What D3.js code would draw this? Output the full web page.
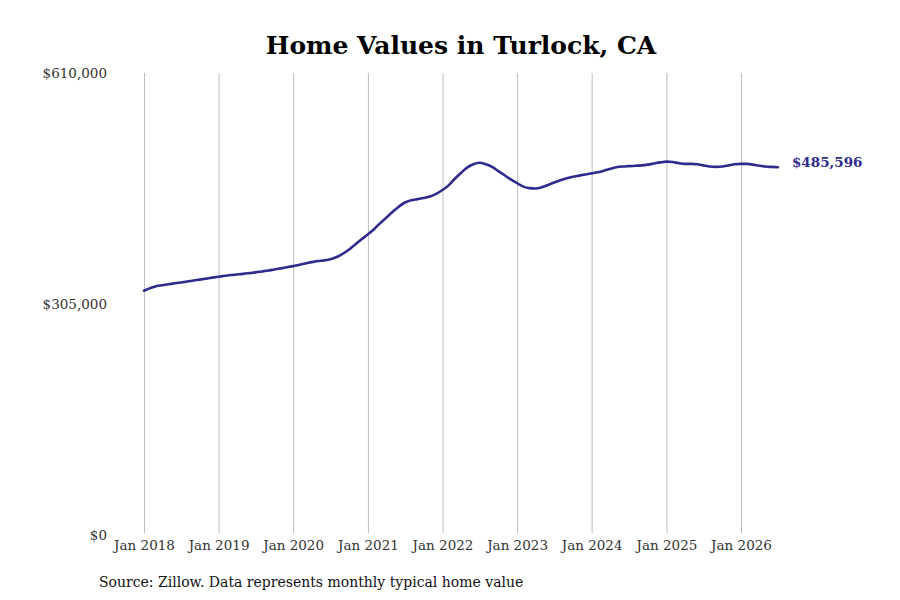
<!DOCTYPE html>
<html>
<head>
<meta charset="utf-8">
<script src="https://cdn.jsdelivr.net/npm/d3@7"></script>
<style>
  body { margin: 0; background: #fff; }
  text { font-family: "DejaVu Serif", serif; }
</style>
</head>
<body>
<div id="drawing"></div>
<script>
// monthly typical home value, Jan 2018 .. Jul 2026
const startMonth = "2018-01";
const values = [
  // 2018
  322500, 326000, 328500, 329800, 331000, 332300, 333500, 334700, 336000, 337200, 338500, 339800,
  // 2019
  341000, 342200, 343200, 344000, 344800, 345800, 346800, 348000, 349200, 350600, 352000, 353500,
  // 2020
  355000, 356800, 358500, 360300, 361700, 362600, 364000, 367000, 371500, 377000, 384000, 390500,
  // 2021
  397000, 404000, 411500, 419000, 426500, 433500, 439000, 442000, 443500, 445000, 447000, 450500,
  // 2022
  455500, 462000, 470000, 478000, 485000, 489500, 491500, 489500, 486000, 480500, 475000, 469500,
  // 2023
  464500, 460000, 458000, 457500, 459000, 462000, 465500, 468500, 471000, 473000, 474500, 476000,
  // 2024
  477500, 479000, 481000, 483500, 485500, 486500, 487000, 487500, 488000, 489000, 490500, 492000,
  // 2025
  493000, 492500, 491000, 490000, 490000, 489500, 488000, 486500, 486000, 486500, 488000, 489500,
  // 2026
  490000, 490000, 489000, 487500, 486500, 486000, 485596
];
const yTicks = [0, 305000, 610000];
const xTickYears = [2018, 2019, 2020, 2021, 2022, 2023, 2024, 2025, 2026];
const title = "Home Values in Turlock, CA";
const source = "Source: Zillow. Data represents monthly typical home value";

const width = 900;
const height = 600;
const lineColor = "#2e2b8c";

const parseMonth = d3.timeParse("%Y-%m");
const t0 = parseMonth(startMonth);
const data = values.map((v, i) => ({date: d3.timeMonth.offset(t0, i), value: v}));

const svg = d3.select("#drawing").append("svg")
  .attr("width", width)
  .attr("height", height)
  .style("background", "#fff");

// x: Jan 2018 -> Jan 2026 spans the gridlines
const x = d3.scaleTime()
  .domain([new Date(2018, 0, 1), new Date(2026, 0, 1)])
  .range([144, 741]);

const y = d3.scaleLinear()
  .domain([0, 610000])
  .range([535, 73]);

// title
svg.append("text")
  .attr("x", 461)
  .attr("y", 54)
  .attr("text-anchor", "middle")
  .style("font-size", "25px")
  .style("font-weight", "bold")
  .text(title);

// vertical gridlines + labels via axis
const xAxis = d3.axisBottom(x)
  .tickValues(xTickYears.map(yr => new Date(yr, 0, 1)))
  .tickFormat(d3.timeFormat("Jan %Y"))
  .tickSize(-(533 - 73))
  .tickPadding(7);

const gx = svg.append("g")
  .attr("transform", "translate(0,533)")
  .call(xAxis);
gx.select(".domain").remove();
gx.selectAll(".tick line").attr("stroke", "#bdbdbd").attr("stroke-width", 1);
gx.selectAll(".tick text")
  .style("font-size", "13.5px")
  .attr("fill", "#333");

// y labels only
const yAxis = d3.axisLeft(y)
  .tickValues(yTicks)
  .tickFormat(d => "$" + d3.format(",")(d))
  .tickSize(0)
  .tickPadding(0);

const gy = svg.append("g")
  .attr("transform", "translate(107,0)")
  .call(yAxis);
gy.select(".domain").remove();
gy.selectAll(".tick text")
  .style("font-size", "13.5px")
  .attr("fill", "#333");

// the line
const line = d3.line()
  .x(d => x(d.date))
  .y(d => y(d.value))
  .curve(d3.curveMonotoneX);

svg.append("path")
  .datum(data)
  .attr("fill", "none")
  .attr("stroke", lineColor)
  .attr("stroke-width", 2.6)
  .attr("stroke-linejoin", "round")
  .attr("stroke-linecap", "round")
  .attr("d", line);

// end label
const last = data[data.length - 1];
svg.append("text")
  .attr("x", x(last.date) + 14)
  .attr("y", y(last.value) - 5)
  .attr("dy", "0.32em")
  .attr("fill", lineColor)
  .style("font-size", "13.5px")
  .style("font-weight", "bold")
  .text("$" + d3.format(",")(last.value));

// source note
svg.append("text")
  .attr("x", 99)
  .attr("y", 587)
  .style("font-size", "14px")
  .attr("fill", "#111")
  .text(source);
</script>
</body>
</html>
